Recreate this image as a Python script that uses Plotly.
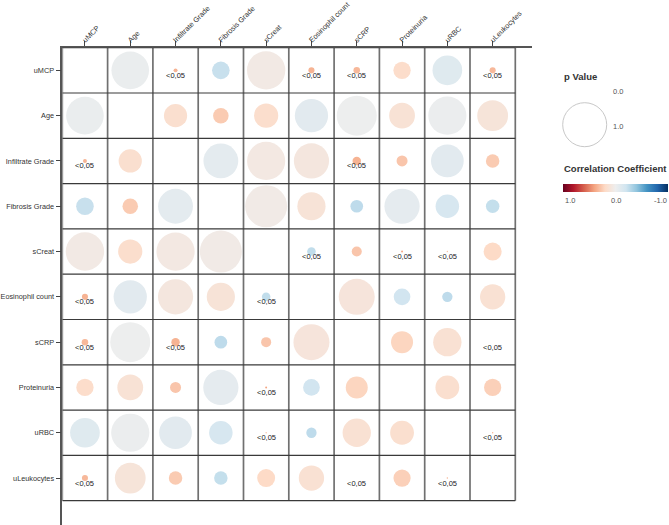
import math
import plotly.graph_objects as go
from plotly.colors import sample_colorscale

variables = ["uMCP", "Age", "Infiltrate Grade", "Fibrosis Grade", "sCreat",
             "Eosinophil count", "sCRP", "Proteinuria", "uRBC", "uLeukocytes"]

# upper triangle (row i -> columns i+1 .. 9), matrix is symmetric
p_upper = [
    [0.73, 0.008, 0.16, 0.76, 0.019, 0.022, 0.155, 0.455, 0.019],
    [0.278, 0.124, 0.302, 0.573, 0.826, 0.344, 0.753, 0.49],
    [0.626, 0.753, 0.64, 0.037, 0.0625, 0.552, 0.094],
    [0.911, 0.411, 0.083, 0.64, 0.285, 0.094],
    [0.038, 0.052, 0.002, 0.001, 0.167],
    [0.669, 0.144, 0.055, 0.331],
    [0.25, 0.414, 0.0],
    [0.293, 0.153],
    [0.001],
]
r_upper = [
    [-0.03, 0.35, -0.23, 0.05, 0.35, 0.33, 0.18, -0.1, 0.33],
    [0.16, 0.26, 0.17, -0.08, -0.01, 0.13, -0.02, 0.11],
    [-0.07, 0.06, 0.08, 0.35, 0.28, -0.08, 0.26],
    [0.04, 0.12, -0.26, -0.06, -0.16, -0.24],
    [-0.25, 0.28, 0.4, 0.3, 0.2],
    [0.1, -0.19, -0.26, 0.14],
    [0.22, 0.14, 0.4],
    [0.16, 0.24],
    [0.35],
]

legend_p_ticks = ["0.0", "1.0"]
legend_r_ticks = ["1.0", "0.0", "-1.0"]
sig_label = "<0,05"

W, H = 669, 525
n = len(variables)

# colour scale: position 0 -> r = +1 (dark red), 1 -> r = -1 (dark blue)
rdbu = [[0.0, "#67001f"], [0.1, "#b2182b"], [0.2, "#d6604d"], [0.3, "#f4a582"],
        [0.4, "#fddbc7"], [0.5, "#eeeeee"], [0.6, "#d1e5f0"], [0.7, "#92c5de"],
        [0.8, "#4393c3"], [0.9, "#2166ac"], [1.0, "#053061"]]

P = [[None] * n for _ in range(n)]
R = [[None] * n for _ in range(n)]
for i in range(n - 1):
    for k, j in enumerate(range(i + 1, n)):
        P[i][j] = P[j][i] = p_upper[i][k]
        R[i][j] = R[j][i] = r_upper[i][k]

MAXD = 44.0  # diameter for p = 1
xs, ys, sizes, colors = [], [], [], []
annotations = []
FONT = "Liberation Sans, Arial, sans-serif"
for i in range(n):
    for j in range(n):
        if i == j:
            continue
        p, r = P[i][j], R[i][j]
        xs.append(j)
        ys.append(i)
        sizes.append(MAXD * math.sqrt(p))
        colors.append(sample_colorscale(rdbu, [(1 - r) / 2])[0])
        if p < 0.05:
            annotations.append(dict(x=j, y=i, xref="x", yref="y", text=sig_label,
                                    showarrow=False, yshift=-5,
                                    font=dict(family=FONT, size=7.5, color="#222")))

fig = go.Figure()
fig.add_trace(go.Scatter(x=xs, y=ys, mode="markers", hoverinfo="skip",
                         marker=dict(size=sizes, sizemode="diameter", color=colors,
                                     line=dict(width=0), opacity=1),
                         showlegend=False))

# colour bar (dummy trace)
fig.add_trace(go.Scatter(
    x=[None], y=[None], mode="markers", showlegend=False, hoverinfo="skip",
    marker=dict(color=[0], cmin=0, cmax=1, colorscale=rdbu, showscale=True,
                colorbar=dict(orientation="h", x=563 / W, xanchor="left",
                              y=1 - 184 / H, yanchor="top", len=105, lenmode="pixels",
                              thickness=8, outlinewidth=0, xpad=0, ypad=0,
                              showticklabels=False, ticks=""))))

# geometry
cell = 45.3
x0px, y0px = 62.3, 47.7
xr_px, yb_px = 531.7, 525.0
x_hi = -0.5 + (xr_px - x0px) / cell
y_hi = -0.5 + (yb_px - y0px) / cell

shapes = []
for k in range(n + 1):
    v = -0.5 + k
    shapes.append(dict(type="line", xref="x", yref="y", x0=v, x1=v, y0=-0.5, y1=n - 0.5,
                       line=dict(color="#707070", width=1.7)))
for k in range(n + 1):
    v = -0.5 + k
    shapes.append(dict(type="line", xref="x", yref="y", y0=v, y1=v, x0=-0.5, x1=n - 0.5,
                       line=dict(color="#3a3a3a", width=1.2)))

# p-value legend
shapes.append(dict(type="circle", xref="paper", yref="paper",
                   x0=562.7 / W, x1=606.7 / W, y0=1 - 146.7 / H, y1=1 - 102.7 / H,
                   line=dict(color="#c8c8c8", width=1), fillcolor="rgba(0,0,0,0)"))

def px_ann(x, y, text, size, color, xanchor="left", bold=False):
    return dict(x=x / W, y=1 - y / H, xref="paper", yref="paper", text=text,
                showarrow=False, xanchor=xanchor, yanchor="middle",
                font=dict(family=FONT, size=size, color=color,
                          weight="bold" if bold else "normal"))

annotations.append(px_ann(562, 76, "p Value", 9.5, "#333", bold=True))
annotations.append(px_ann(611, 92, legend_p_ticks[0], 7.5, "#555"))
annotations.append(px_ann(611, 126, legend_p_ticks[1], 7.5, "#555"))
annotations.append(px_ann(562, 168, "Correlation Coefficient", 9.5, "#333", bold=True))
annotations.append(px_ann(563, 200.5, legend_r_ticks[0], 7.5, "#555"))
annotations.append(px_ann(615.8, 200.5, legend_r_ticks[1], 7.5, "#555", xanchor="center"))
annotations.append(px_ann(668.5, 200.5, legend_r_ticks[2], 7.5, "#555", xanchor="right"))

fig.update_layout(
    template="none",
    width=W, height=H,
    margin=dict(l=0, r=0, t=0, b=0, autoexpand=False),
    paper_bgcolor="white", plot_bgcolor="white",
    shapes=shapes, annotations=annotations,
    xaxis=dict(domain=[x0px / W, xr_px / W], range=[-0.5, x_hi], side="top",
               tickmode="array", tickvals=list(range(n)), ticktext=variables,
               tickangle=-45, ticks="outside", ticklen=5, tickwidth=1.2, tickcolor="#444",
               showline=True, linecolor="#555", linewidth=1.5, showgrid=False,
               zeroline=False, automargin=False, fixedrange=True,
               ticklabeloverflow="allow", ticklabelstandoff=-6, ticklabelshift=-2,
               tickfont=dict(family=FONT, size=7.3, color="#333")),
    yaxis=dict(domain=[0, 1 - y0px / H], range=[y_hi, -0.5],
               tickmode="array", tickvals=list(range(n)), ticktext=variables,
               ticks="outside", ticklen=5, tickwidth=1.2, tickcolor="#444",
               showline=True, linecolor="#555", linewidth=1.5, showgrid=False,
               zeroline=False, automargin=False, fixedrange=True,
               ticklabeloverflow="allow",
               tickfont=dict(family=FONT, size=7.3, color="#333")),
)

fig.write_html("out.html", config={"displayModeBar": False},
               post_script="document.body.style.margin='0';document.body.style.padding='0';")
